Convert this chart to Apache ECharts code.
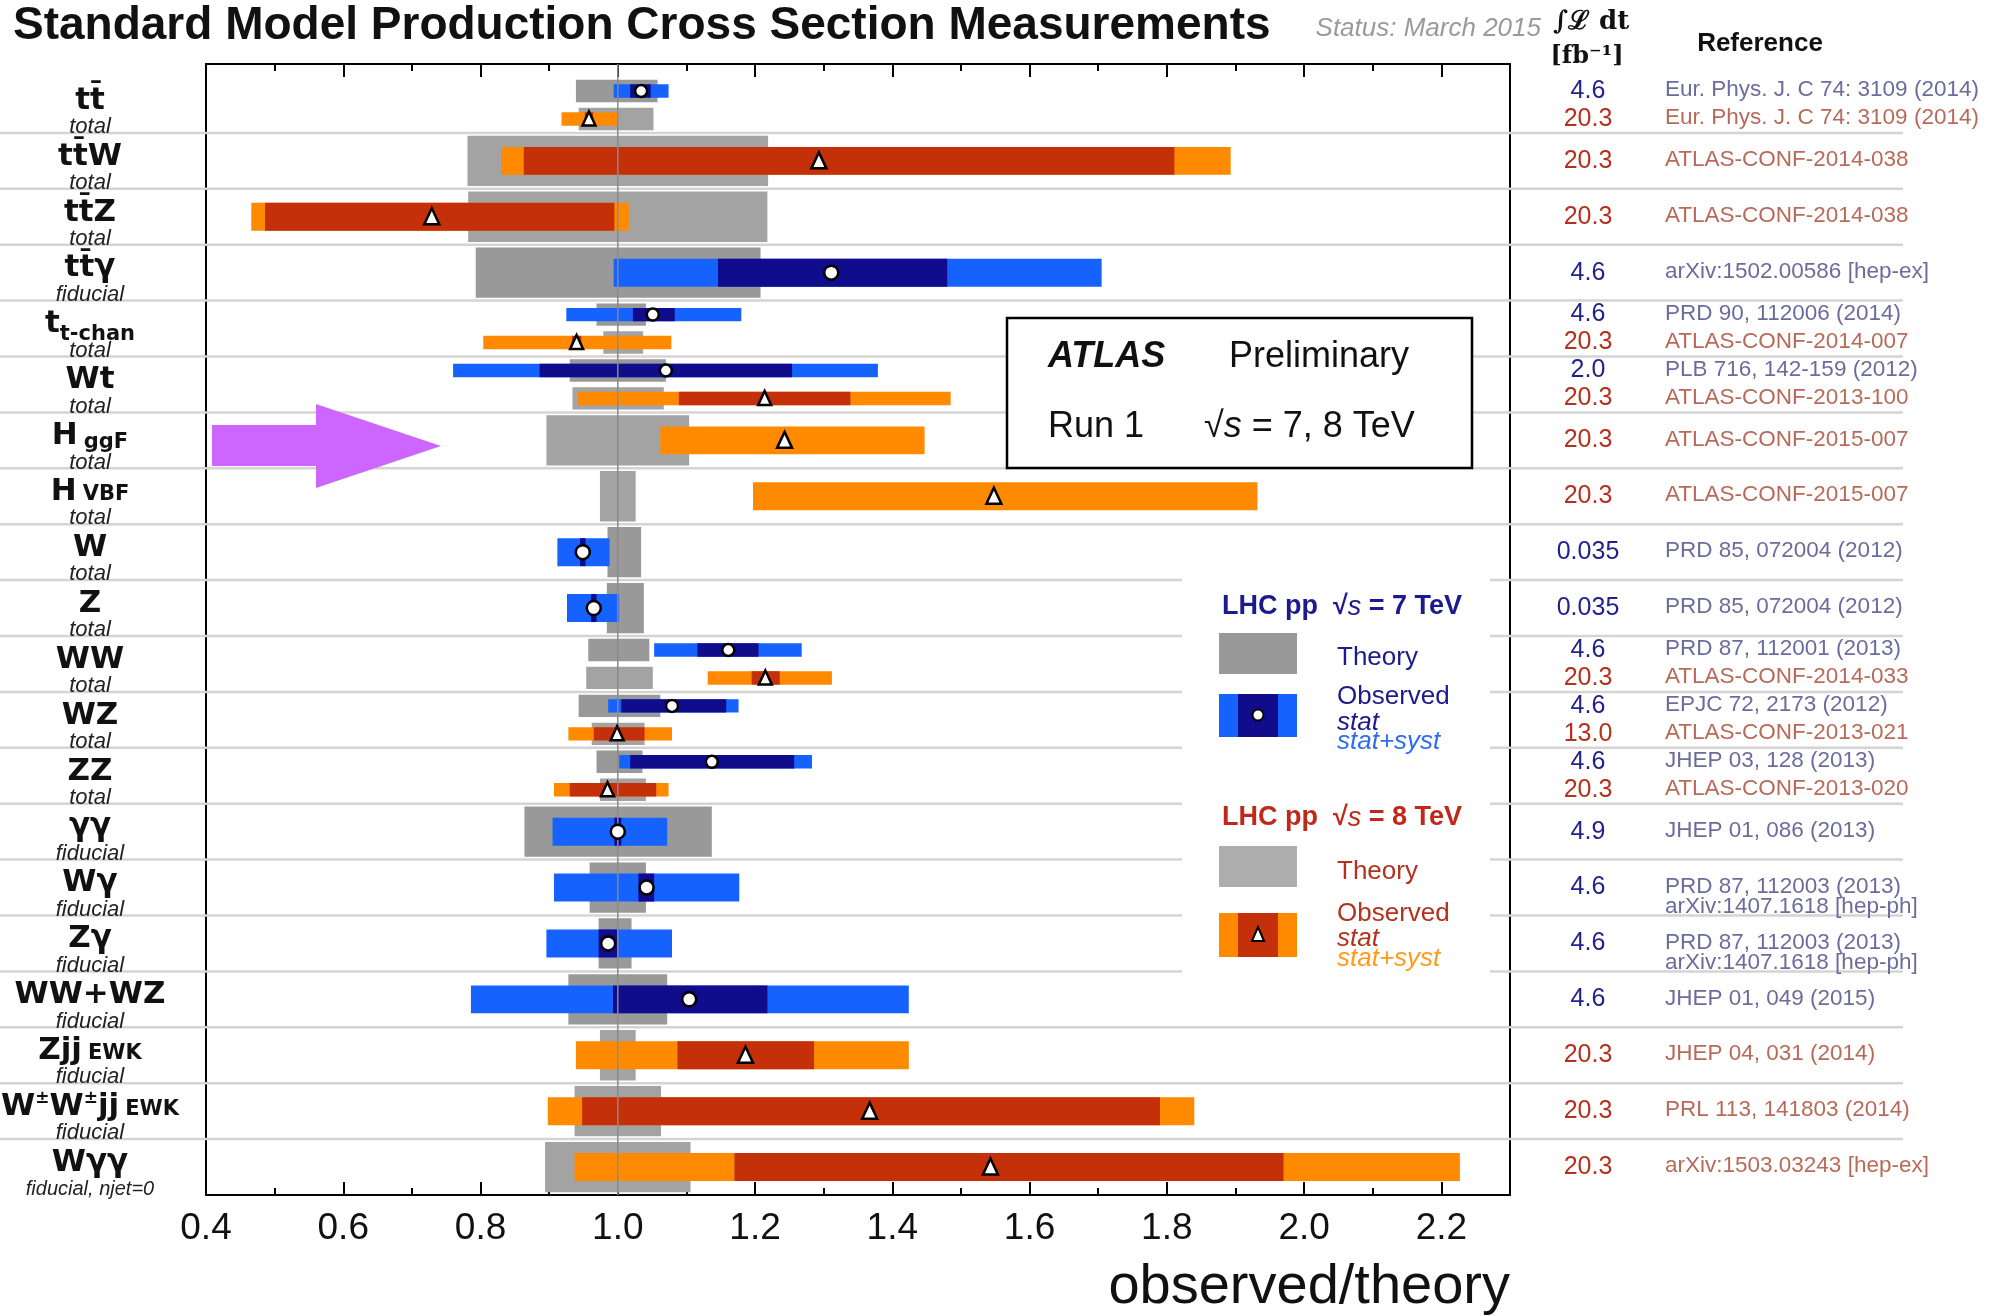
<!DOCTYPE html>
<html><head><meta charset="utf-8">
<script src="https://cdn.jsdelivr.net/npm/echarts@6/dist/echarts.min.js"></script>
<style>html,body{margin:0;padding:0;background:#fff;}#c{width:1994px;height:1316px;}</style>
</head><body><div id="c"></div>
<script>
// ---------------- data ----------------
const categories = ['tt\u0304','tt\u0304W','tt\u0304Z','tt\u0304γ','t','Wt','H','H','W','Z','WW','WZ','ZZ','γγ','Wγ','Zγ','WW+WZ','Zjj','W±W±jj','Wγγ'];
const labelSub = ['','','','','t-chan','','ggF','VBF','','','','','','','','','','EWK','EWK',''];
const labelNote = ['total','total','total','fiducial','total','total','total','total','total','total','total','total','total','fiducial','fiducial','fiducial','fiducial','fiducial','fiducial','fiducial, njet=0'];
const xTickLabels = ['0.4','0.6','0.8','1.0','1.2','1.4','1.6','1.8','2.0','2.2'];

// LHC pp sqrt(s)=7 TeV
const rows7     = [0, 3, 4, 5, 8, 9, 10, 11, 12, 13, 14, 15, 16];
const theoryLo7 = [0.939,0.793,0.969,0.930,0.985,0.984,0.957,0.943,0.969,0.864,0.959,0.972,0.928];
const theoryHi7 = [1.058,1.208,1.041,1.070,1.034,1.038,1.046,1.062,1.036,1.137,1.041,1.020,1.072];
const totalLo7  = [0.994,0.994,0.925,0.760,0.912,0.926,1.053,0.986,1.002,0.905,0.907,0.896,0.786];
const totalHi7  = [1.074,1.705,1.180,1.379,0.988,1.002,1.268,1.176,1.283,1.072,1.177,1.079,1.424];
const statLo7   = [1.018,1.146,1.022,0.886,0.945,0.961,1.116,1.005,1.018,0.995,1.030,0.972,0.993];
const statHi7   = [1.048,1.480,1.083,1.254,0.953,0.969,1.205,1.158,1.257,1.005,1.053,0.999,1.218];
const central7  = [1.034,1.311,1.051,1.070,0.949,0.965,1.161,1.079,1.137,1.000,1.042,0.986,1.104];
const lumi7 = ['4.6','4.6','4.6','2.0','0.035','0.035','4.6','4.6','4.6','4.9','4.6','4.6','4.6'];
const ref7 = ['Eur. Phys. J. C 74: 3109 (2014)','arXiv:1502.00586 [hep-ex]','PRD 90, 112006 (2014)','PLB 716, 142-159 (2012)',
  'PRD 85, 072004 (2012)','PRD 85, 072004 (2012)','PRD 87, 112001 (2013)','EPJC 72, 2173 (2012)','JHEP 03, 128 (2013)',
  'JHEP 01, 086 (2013)','PRD 87, 112003 (2013)\narXiv:1407.1618 [hep-ph]','PRD 87, 112003 (2013)\narXiv:1407.1618 [hep-ph]','JHEP 01, 049 (2015)'];

// LHC pp sqrt(s)=8 TeV
const rows8     = [0, 1, 2, 4, 5, 6, 7, 10, 11, 12, 17, 18, 19];
const theoryLo8 = [0.943,0.781,0.782,0.979,0.934,0.896,0.974,0.954,0.962,0.974,0.974,0.937,0.894];
const theoryHi8 = [1.052,1.219,1.218,1.037,1.067,1.104,1.026,1.051,1.039,1.041,1.026,1.063,1.106];
const totalLo8  = [0.918,0.830,0.466,0.804,0.942,1.062,1.197,1.131,0.928,0.907,0.939,0.898,0.937];
const totalHi8  = [1.000,1.893,1.016,1.078,1.485,1.447,1.932,1.312,1.079,1.074,1.424,1.840,2.227];
const statLo8   = [0.952,0.863,0.486,0.933,1.089,null,null,1.195,0.965,0.930,1.087,0.948,1.170];
const statHi8   = [0.964,1.811,0.995,0.947,1.339,null,null,1.236,1.039,1.056,1.286,1.790,1.970];
const central8  = [0.958,1.293,0.729,0.940,1.214,1.243,1.548,1.215,0.999,0.985,1.186,1.367,1.543];
const lumi8 = ['20.3','20.3','20.3','20.3','20.3','20.3','20.3','20.3','13.0','20.3','20.3','20.3','20.3'];
const ref8 = ['Eur. Phys. J. C 74: 3109 (2014)','ATLAS-CONF-2014-038','ATLAS-CONF-2014-038','ATLAS-CONF-2014-007','ATLAS-CONF-2013-100',
  'ATLAS-CONF-2015-007','ATLAS-CONF-2015-007','ATLAS-CONF-2014-033','ATLAS-CONF-2013-021','ATLAS-CONF-2013-020',
  'JHEP 04, 031 (2014)','PRL 113, 141803 (2014)','arXiv:1503.03243 [hep-ex]'];

// ---------------- styling ----------------
const SANS = "'Liberation Sans', Arial, sans-serif";
const C = {
  th7:'#999999', th8:'#a3a3a3', tot7:'#1662ff', stat7:'#100c8c', tot8:'#ff8a00', stat8:'#c4300a',
  lumi7:'#23228c', lumi8:'#b5301f', ref7:'#6c6c9c', ref8:'#b86a5a', sep:'#d4d4d4', unity:'#8a8a8a'
};
const N = categories.length;
const Y_MAX = N + 0.233;
const isDouble = categories.map((_, r) => rows7.includes(r) && rows8.includes(r));
function yc(row, e) { const c = N - 0.5 - row; return isDouble[row] ? (e === 7 ? c + 0.25 : c - 0.25) : c; }

const mctx = document.createElement('canvas').getContext('2d');
function tw(t, font) { mctx.font = font; return mctx.measureText(t).width; }

function bandData(rows, lo, hi, e) { return rows.map((r, i) => [r, lo[i], hi[i], e]).filter(d => d[1] != null && d[2] != null); }

function bandRender(hs, hd, c7, c8) {
  return function (params, api) {
    const row = api.value(0), e = api.value(3);
    const c = yc(row, e), h = isDouble[row] ? hd : hs;
    const a = api.coord([api.value(1), c + h]);
    const b = api.coord([api.value(2), c - h]);
    return { type:'rect', shape:{ x:a[0], y:a[1], width:b[0]-a[0], height:b[1]-a[1] }, style:{ fill: e === 7 ? c7 : c8 } };
  };
}

function markerRender(params, api) {
  const row = api.value(0), e = api.value(2);
  const p = api.coord([api.value(1), yc(row, e)]);
  const s = isDouble[row] ? 13 : 15;
  if (e === 7) return { type:'circle', shape:{ cx:p[0], cy:p[1], r:s/2 - 0.5 }, style:{ fill:'#fff', stroke:'#000', lineWidth:2.5 } };
  return { type:'polygon', shape:{ points:[[p[0], p[1]-s/2-1],[p[0]+s/2, p[1]+s/2],[p[0]-s/2, p[1]+s/2]] },
           style:{ fill:'#fff', stroke:'#000', lineWidth:2.5, lineJoin:'miter' } };
}

const F_MAIN = 31, F_SUB = 21, F_SUP = 17;
const SUB_SHIFT = { 't-chan': 7, 'ggF': 3, 'VBF': 0, 'EWK': 0 };
function labelRender(params, api) {
  const row = api.value(0);
  const top = api.coord([0.4, N - row])[1];
  const base = top + 33;
  const segs = [];
  categories[row].split('±').forEach((p, k) => {
    if (k > 0) segs.push({ t:'±', size:F_SUP, base:base - 13, gap:0 });
    if (p) segs.push({ t:p, size:F_MAIN, base:base, gap:0 });
  });
  if (labelSub[row]) segs.push({ t:labelSub[row], size:F_SUB, base:base + (SUB_SHIFT[labelSub[row]] || 0), gap: labelSub[row] === 't-chan' ? 0 : 6 });
  let total = 0;
  segs.forEach(s => { s.font = 'bold ' + s.size + "px 'DejaVu Sans'"; s.w = tw(s.t, s.font); total += s.w + s.gap; });
  let x = 90 - total / 2;
  const children = [];
  segs.forEach(s => {
    x += s.gap;
    children.push({ type:'text', x:x, y:s.base - 0.3 * s.size,
      style:{ text:s.t, font:s.font, fill:'#111', textAlign:'left', textVerticalAlign:'middle', align:'left', verticalAlign:'middle' } });
    x += s.w;
  });
  const noteSize = labelNote[row].length > 10 ? 20 : 22;
  children.push({ type:'text', x:90, y:top + 50,
    style:{ text:labelNote[row], font:'italic ' + noteSize + 'px ' + SANS, fill:'#222', textAlign:'center', textVerticalAlign:'middle', align:'center', verticalAlign:'middle' } });
  return { type:'group', children };
}

function rightRender(params, api) {
  const row = api.value(0), e = api.value(1), i = api.value(2);
  const y = api.coord([1, yc(row, e)])[1];
  const lumi = e === 7 ? lumi7[i] : lumi8[i];
  const ref = (e === 7 ? ref7[i] : ref8[i]).split('\n');
  const children = [{ type:'text', x:1588, y:y,
    style:{ text:lumi, font:'25px ' + SANS, fill: e === 7 ? C.lumi7 : C.lumi8, textAlign:'center', textVerticalAlign:'middle', align:'center', verticalAlign:'middle' } }];
  ref.forEach((line, k) => children.push({ type:'text', x:1665, y:y - 1 + k * 20,
    style:{ text:line, font:'22.5px ' + SANS, fill: e === 7 ? C.ref7 : C.ref8, textAlign:'left', textVerticalAlign:'middle', align:'left', verticalAlign:'middle' } }));
  return { type:'group', children };
}

function txt(x, y, text, font, fill, align, extra) {
  return Object.assign({ type:'text', x, y, z:120,
    style:Object.assign({ text, font, fill, textAlign:align || 'left', textVerticalAlign:'middle', align:align || 'left', verticalAlign:'middle' }, extra || {}) });
}
function rect(x, y, w, h, fill, z, extra) {
  return { type:'rect', z: z || 110, shape:{ x, y, width:w, height:h }, style:Object.assign({ fill }, extra || {}) };
}

const chart = echarts.init(document.getElementById('c'), null, { renderer:'canvas', width:1994, height:1316 });

const axisCommon = { type:'value', min:0.4, max:2.3, splitLine:{ show:false }, axisLine:{ show:false } };
const option = {
  animation:false,
  backgroundColor:'#fff',
  grid:{ left:206, right:484, top:64, bottom:121, show:true, borderColor:'#000', borderWidth:2, backgroundColor:'transparent' },
  xAxis:[
    Object.assign({}, axisCommon, { position:'bottom', interval:0.2,
      axisTick:{ show:true, inside:true, length:13, lineStyle:{ color:'#000', width:2 } },
      axisLabel:{ show:true, showMaxLabel:false, margin:15, fontSize:37, fontFamily:SANS, color:'#111',
        formatter:(v) => { const k = Math.round((v - 0.4) / 0.2); return xTickLabels[k] || ''; } } }),
    Object.assign({}, axisCommon, { position:'bottom', interval:0.1,
      axisTick:{ show:true, inside:true, length:7, lineStyle:{ color:'#000', width:2 } }, axisLabel:{ show:false } }),
    Object.assign({}, axisCommon, { position:'top', interval:0.2,
      axisTick:{ show:true, inside:true, length:13, lineStyle:{ color:'#000', width:2 } }, axisLabel:{ show:false } }),
    Object.assign({}, axisCommon, { position:'top', interval:0.1,
      axisTick:{ show:true, inside:true, length:7, lineStyle:{ color:'#000', width:2 } }, axisLabel:{ show:false } })
  ],
  yAxis:{ type:'value', min:0, max:Y_MAX, show:false, splitLine:{ show:false } },
  series:[
    { type:'custom', name:'separators', z:1, silent:true, clip:false,
      data: categories.slice(1).map((_, k) => [k + 1]),
      renderItem:(params, api) => { const y = api.coord([1, N - api.value(0)])[1];
        return { type:'line', shape:{ x1:0, y1:y, x2:1903, y2:y }, style:{ stroke:C.sep, lineWidth:2.5 } }; } },
    { type:'custom', name:'Theory', z:2, silent:true,
      data: bandData(rows7, theoryLo7, theoryHi7, 7).concat(bandData(rows8, theoryLo8, theoryHi8, 8)),
      renderItem: bandRender(0.45, 0.2, C.th7, C.th8) },
    { type:'custom', name:'stat+syst', z:3, silent:true,
      data: bandData(rows7, totalLo7, totalHi7, 7).concat(bandData(rows8, totalLo8, totalHi8, 8)),
      renderItem: bandRender(0.25, 0.12, C.tot7, C.tot8) },
    { type:'custom', name:'stat', z:4, silent:true,
      data: bandData(rows7, statLo7, statHi7, 7).concat(bandData(rows8, statLo8, statHi8, 8)),
      renderItem: bandRender(0.25, 0.12, C.stat7, C.stat8) },
    { type:'custom', name:'unity', z:5, silent:true, data:[[1]],
      renderItem:(params, api) => { const a = api.coord([api.value(0), 0]), b = api.coord([api.value(0), Y_MAX]);
        return { type:'line', shape:{ x1:a[0], y1:a[1], x2:b[0], y2:b[1] }, style:{ stroke:C.unity, lineWidth:1.5 } }; } },
    { type:'custom', name:'Observed', z:6, silent:true,
      data: rows7.map((r, i) => [r, central7[i], 7]).concat(rows8.map((r, i) => [r, central8[i], 8])),
      renderItem: markerRender },
    { type:'custom', name:'labels', z:7, silent:true, clip:false,
      data: categories.map((_, i) => [i]), renderItem: labelRender },
    { type:'custom', name:'refs', z:7, silent:true, clip:false,
      data: rows7.map((r, i) => [r, 7, i]).concat(rows8.map((r, i) => [r, 8, i])), renderItem: rightRender }
  ],
  graphic:[
    // header
    txt(13, 26, 'Standard Model Production Cross Section Measurements', 'bold 46px ' + SANS, '#111'),
    txt(1541, 29, 'Status: March 2015', 'italic 26px ' + SANS, '#9a9a9a', 'right'),
    txt(1553, 22, '∫ℒ dt', "bold 26px 'DejaVu Serif', serif", '#111'),
    txt(1587, 57, '[fb⁻¹]', "bold 24px 'DejaVu Serif', serif", '#111', 'center'),
    txt(1760, 44, 'Reference', 'bold 26px ' + SANS, '#111', 'center'),
    // x axis name
    txt(1510, 1288, 'observed/theory', '56px ' + SANS, '#111', 'right'),
    // arrow
    { type:'polygon', z:115, shape:{ points:[[212,425],[316,425],[316,404],[441,446],[316,488],[316,466],[212,466]] }, style:{ fill:'#cc66ff' } },
    // ATLAS box
    rect(1007, 318, 465, 150, '#fff', 110, { stroke:'#000', lineWidth:2.5 }),
    txt(1048, 357, 'ATLAS', 'italic bold 36px ' + SANS, '#111'),
    txt(1229, 357, 'Preliminary', '36px ' + SANS, '#111'),
    txt(1048, 427, 'Run 1', '36px ' + SANS, '#111'),
    txt(1204, 427, '{a|√}{b|s}{a| = 7, 8 TeV}', '36px ' + SANS, '#111', 'left',
      { rich:{ a:{ font:'36px ' + SANS, fill:'#111' }, b:{ font:'italic 36px ' + SANS, fill:'#111' } } }),
    // legend
    rect(1182, 545, 308, 445, '#fff', 105),
    txt(1222, 607, '{a|LHC pp  √}{b|s}{a| = 7 TeV}', 'bold 27px ' + SANS, '#1c1a8c', 'left',
      { rich:{ a:{ font:'bold 27px ' + SANS, fill:'#1c1a8c' }, b:{ font:'italic 27px ' + SANS, fill:'#1c1a8c' } } }),
    rect(1219, 633, 78, 41, C.th7),
    txt(1337, 658, 'Theory', '26px ' + SANS, '#1c1a8c'),
    rect(1219, 694, 78, 43, C.tot7),
    rect(1238, 694, 40, 43, C.stat7, 111),
    { type:'circle', z:112, shape:{ cx:1258, cy:715, r:5.5 }, style:{ fill:'#fff', stroke:'#000', lineWidth:2 } },
    txt(1337, 697, 'Observed', '26px ' + SANS, '#1c1a8c'),
    txt(1337, 723, 'stat', 'italic 26px ' + SANS, '#1c1a8c'),
    txt(1337, 742, 'stat+syst', 'italic 26px ' + SANS, '#2f6cf2'),
    txt(1222, 818, '{a|LHC pp  √}{b|s}{a| = 8 TeV}', 'bold 27px ' + SANS, '#c0281a', 'left',
      { rich:{ a:{ font:'bold 27px ' + SANS, fill:'#c0281a' }, b:{ font:'italic 27px ' + SANS, fill:'#c0281a' } } }),
    rect(1219, 846, 78, 41, '#adadad'),
    txt(1337, 872, 'Theory', '26px ' + SANS, '#b3321e'),
    rect(1219, 913, 78, 44, C.tot8),
    rect(1238, 913, 40, 44, C.stat8, 111),
    { type:'polygon', z:112, shape:{ points:[[1258,927],[1264,941],[1252,941]] }, style:{ fill:'#fff', stroke:'#000', lineWidth:2 } },
    txt(1337, 914, 'Observed', '26px ' + SANS, '#b3321e'),
    txt(1337, 939, 'stat', 'italic 26px ' + SANS, '#b3321e'),
    txt(1337, 959, 'stat+syst', 'italic 26px ' + SANS, '#ff9a1a')
  ]
};
chart.setOption(option);
</script></body></html>
